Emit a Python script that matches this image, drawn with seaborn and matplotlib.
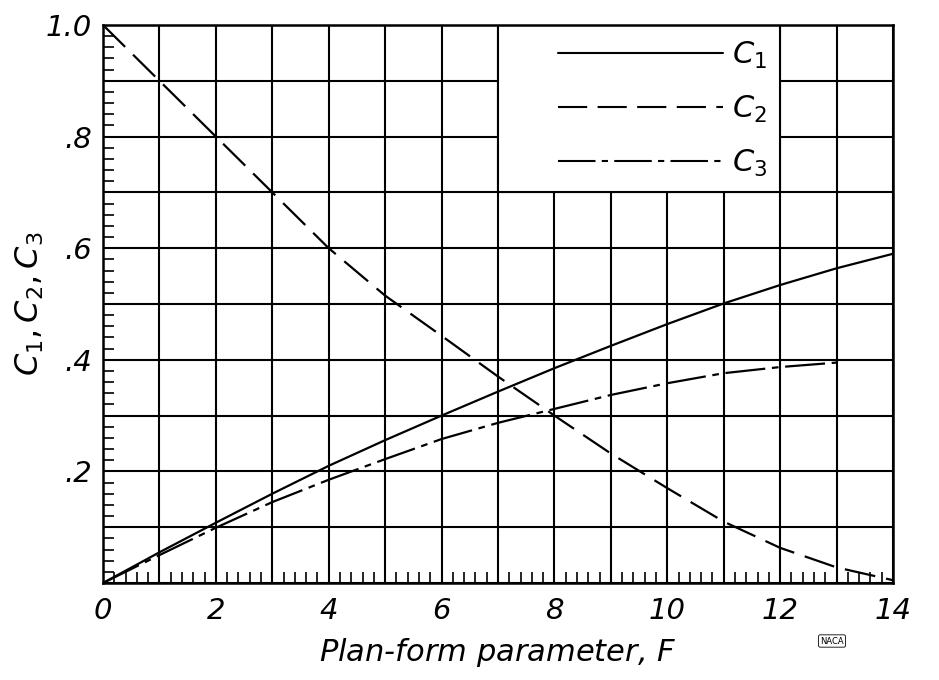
import numpy as np
import pandas as pd
import matplotlib
matplotlib.use("Agg")
import matplotlib.pyplot as plt
from matplotlib.patches import Rectangle
from matplotlib.ticker import MultipleLocator, FuncFormatter
import seaborn as sns

# Data
F1 = [0, 1, 2, 3, 4, 5, 6, 7, 8, 9, 10, 11, 12, 13, 14]
C1 = [0.0, 0.055, 0.108, 0.160, 0.210, 0.256, 0.300, 0.343, 0.385, 0.425, 0.464, 0.501, 0.534, 0.564, 0.590]
F2 = [0, 1, 2, 3, 4, 5, 6, 7, 8, 9, 10, 11, 12, 13, 14]
C2 = [1.0, 0.90, 0.80, 0.70, 0.60, 0.515, 0.443, 0.370, 0.300, 0.232, 0.170, 0.110, 0.063, 0.028, 0.005]
F3 = [0, 1, 2, 3, 4, 5, 6, 7, 8, 9, 10, 11, 12, 13]
C3 = [0.0, 0.050, 0.099, 0.145, 0.185, 0.222, 0.258, 0.287, 0.312, 0.337, 0.358, 0.376, 0.387, 0.395]
series_names = ["$C_1$", "$C_2$", "$C_3$"]

df = pd.concat([
    pd.DataFrame({"F": F1, "C": C1, "series": series_names[0]}),
    pd.DataFrame({"F": F2, "C": C2, "series": series_names[1]}),
    pd.DataFrame({"F": F3, "C": C3, "series": series_names[2]}),
])

sns.set_style("white")
plt.rcParams["font.family"] = ["DejaVu Sans"]
plt.rcParams["mathtext.fontset"] = "dejavusans"
plt.rcParams["text.color"] = "black"
plt.rcParams["axes.labelcolor"] = "black"
plt.rcParams["xtick.color"] = "black"
plt.rcParams["ytick.color"] = "black"

fig = plt.figure(figsize=(9.39, 6.8), dpi=100)
ax = fig.add_axes([103/939, 1 - 583/680, 790/939, 558/680])

dashes = {series_names[0]: "", series_names[1]: (14, 5), series_names[2]: (18, 3, 3, 3)}
sns.lineplot(data=df, x="F", y="C", style="series", dashes=dashes, color="black",
             linewidth=1.6, ax=ax, legend=True, sort=False, zorder=3)

ax.set_xlim(0, 14)
ax.set_ylim(0, 1.0)

ax.xaxis.set_major_locator(MultipleLocator(1))
ax.yaxis.set_major_locator(MultipleLocator(0.1))
ax.xaxis.set_minor_locator(MultipleLocator(0.2))
ax.yaxis.set_minor_locator(MultipleLocator(0.02))

def xfmt(v, pos):
    i = int(round(v))
    return str(i) if i % 2 == 0 else ""

def yfmt(v, pos):
    k = int(round(v * 10))
    if k == 0 or k % 2 == 1:
        return ""
    if k == 10:
        return "1.0"
    return "." + str(k)

ax.xaxis.set_major_formatter(FuncFormatter(xfmt))
ax.yaxis.set_major_formatter(FuncFormatter(yfmt))

ax.grid(True, which="major", color="black", linewidth=1.5)
ax.tick_params(axis="both", which="major", length=0, pad=10, labelsize=21)
ax.tick_params(axis="y", which="major", pad=8)
ax.tick_params(axis="both", which="minor", direction="in", length=8, width=1.2, color="black")
ax.tick_params(axis="x", which="minor", top=False, bottom=True)
ax.tick_params(axis="y", which="minor", left=True, right=False)
for lab in ax.get_xticklabels() + ax.get_yticklabels():
    lab.set_fontstyle("italic")
for s in ax.spines.values():
    s.set_color("black")
    s.set_linewidth(1.8)

ax.set_xlabel("Plan-form parameter, $F$", fontsize=22, fontstyle="italic", labelpad=8)
ax.set_ylabel("$C_1, C_2, C_3$", fontsize=23, labelpad=0)

# white legend box covering grid cells
rect = Rectangle((7/14, 0.7), 5/14, 0.3, transform=ax.transAxes, facecolor="white",
                 edgecolor="black", linewidth=1.5, zorder=2.5)
ax.add_patch(rect)

handles, labels = ax.get_legend_handles_labels()
leg = ax.legend(handles, labels, loc="upper left", bbox_to_anchor=(0.541, 1.023),
                frameon=False, fontsize=22, handlelength=5.4, labelspacing=0.75,
                handletextpad=0.3, borderpad=0.4)
leg.set_zorder(4)
for h in leg.get_lines():
    h.set_linewidth(1.5)

# NACA mark
fig.text(832/939, 1 - 641/680, "NACA", fontsize=6, ha="center", va="center",
         bbox=dict(boxstyle="round,pad=0.2", fc="white", ec="black", lw=0.6))

fig.savefig("out.png", dpi=100)
